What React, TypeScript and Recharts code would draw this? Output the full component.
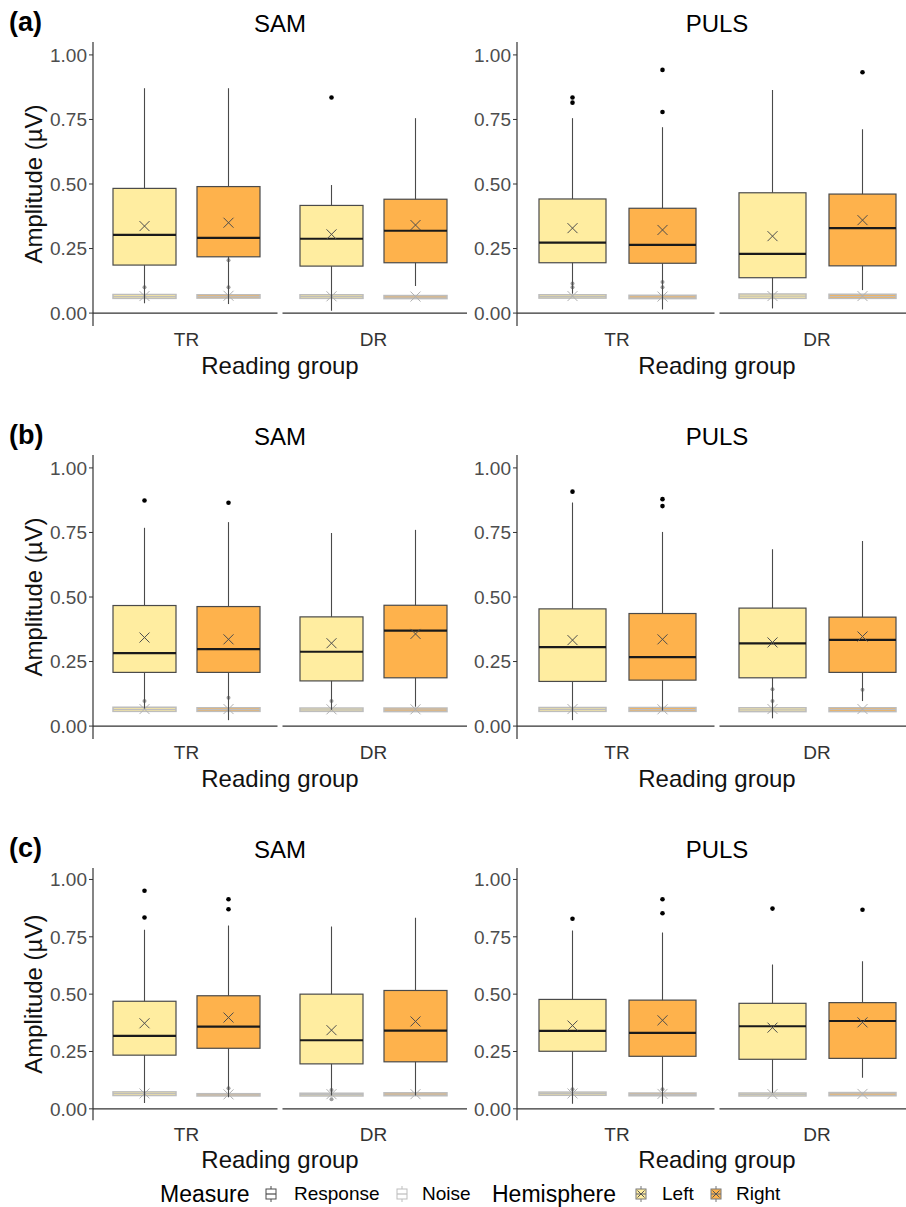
import React from "react";
import { ComposedChart, Bar, XAxis, YAxis, ReferenceLine } from "recharts";

const ROW_TAGS = ["(a)", "(b)", "(c)"];
const STIMULI = ["SAM", "PULS"];
const GROUPS = ["TR", "DR"];
const HEMISPHERES = ["Left", "Right"];
const Y_TICKS = [0, 0.25, 0.5, 0.75, 1];

// one line per panel: a-SAM, a-PULS, b-SAM, b-PULS, c-SAM, c-PULS
// columns: TR-Left, TR-Right, DR-Left, DR-Right
const WHISKER_HI = [
  [0.871, 0.871, 0.496, 0.755],
  [0.755, 0.72, 0.864, 0.712],
  [0.768, 0.79, 0.748, 0.76],
  [0.866, 0.752, 0.685, 0.717],
  [0.781, 0.799, 0.795, 0.833],
  [0.778, 0.769, 0.629, 0.643],
];
const Q3 = [
  [0.483, 0.49, 0.417, 0.441],
  [0.442, 0.406, 0.466, 0.461],
  [0.467, 0.463, 0.423, 0.468],
  [0.454, 0.436, 0.457, 0.422],
  [0.469, 0.493, 0.5, 0.516],
  [0.477, 0.474, 0.46, 0.463],
];
const MEDIAN = [
  [0.303, 0.291, 0.288, 0.319],
  [0.273, 0.264, 0.229, 0.329],
  [0.283, 0.298, 0.288, 0.37],
  [0.306, 0.267, 0.32, 0.334],
  [0.318, 0.358, 0.299, 0.341],
  [0.34, 0.331, 0.36, 0.383],
];
const Q1 = [
  [0.186, 0.218, 0.182, 0.195],
  [0.195, 0.193, 0.137, 0.183],
  [0.208, 0.208, 0.175, 0.187],
  [0.173, 0.178, 0.187, 0.208],
  [0.234, 0.264, 0.196, 0.205],
  [0.251, 0.229, 0.216, 0.22],
];
const WHISKER_LO = [
  [0.038, 0.035, 0.009, 0.105],
  [0.075, 0.014, 0.018, 0.089],
  [0.068, 0.023, 0.063, 0.075],
  [0.023, 0.06, 0.03, 0.097],
  [0.025, 0.05, 0.058, 0.058],
  [0.022, 0.022, 0.07, 0.135],
];
const MEAN = [
  [0.337, 0.35, 0.305, 0.341],
  [0.329, 0.322, 0.298, 0.36],
  [0.343, 0.336, 0.321, 0.357],
  [0.333, 0.336, 0.324, 0.347],
  [0.373, 0.398, 0.343, 0.381],
  [0.363, 0.386, 0.354, 0.377],
];
const OUTLIERS = [
  [[], [], [0.835], []],
  [[0.835, 0.815], [0.942, 0.779], [], [0.933]],
  [[0.874], [0.865], [], []],
  [[0.908], [0.879, 0.852], [], []],
  [[0.951, 0.834], [0.914, 0.87], [], []],
  [[0.829], [0.914, 0.853], [0.873], [0.868]],
];

// noise measure
const NOISE_Q1 = [
  [0.057, 0.058, 0.057, 0.056],
  [0.058, 0.056, 0.057, 0.057],
  [0.057, 0.057, 0.057, 0.056],
  [0.057, 0.057, 0.056, 0.056],
  [0.058, 0.056, 0.056, 0.057],
  [0.059, 0.057, 0.056, 0.057],
];
const NOISE_MED = [
  [0.064, 0.064, 0.064, 0.062],
  [0.064, 0.062, 0.066, 0.065],
  [0.065, 0.064, 0.063, 0.063],
  [0.065, 0.064, 0.063, 0.064],
  [0.066, 0.061, 0.062, 0.064],
  [0.066, 0.063, 0.063, 0.065],
];
const NOISE_Q3 = [
  [0.072, 0.071, 0.071, 0.068],
  [0.071, 0.069, 0.074, 0.073],
  [0.073, 0.071, 0.07, 0.07],
  [0.072, 0.072, 0.071, 0.071],
  [0.074, 0.066, 0.068, 0.07],
  [0.073, 0.069, 0.069, 0.071],
];
const NOISE_MEAN = [
  [0.066, 0.067, 0.065, 0.064],
  [0.066, 0.064, 0.066, 0.066],
  [0.066, 0.066, 0.065, 0.065],
  [0.066, 0.065, 0.066, 0.066],
  [0.067, 0.063, 0.064, 0.064],
  [0.067, 0.065, 0.064, 0.065],
];
const NOISE_OUTLIERS = [
  [[0.1], [0.1, 0.205], [], []],
  [[0.1, 0.115], [0.1, 0.12], [], []],
  [[0.097], [0.11], [0.097], []],
  [[], [], [0.143, 0.097], [0.141]],
  [[], [0.09], [0.082, 0.042], []],
  [[0.085], [0.085], [], []],
];

const FILLS = ["#FFEDA0", "#FEB24C"];
const RESPONSE_LINE = "#4a4a4a";
const NOISE_LINE = "#bdbdbd";
const FONT = '"Liberation Sans", Arial, sans-serif';

const ROW_PLOT_TOP = [42, 455, 867.5];
const ROW_PLOT_H = [284, 284, 252.3];
const ROW_TITLE_Y = [32, 445, 858];
const COLS = [
  { left: 0, axisW: 93, plotW: 374, barSize: 63, barGap: 21, yLabel: true, titleX: 280 },
  { left: 466, axisW: 51, plotW: 400, barSize: 67, barGap: 23, yLabel: false, titleX: 717 },
];
const MARGIN_TOP = 10;
const XAXIS_H = 60;

function boxRange(p: number, k: number): [number, number] {
  const lo = Math.min(WHISKER_LO[p][k], NOISE_Q1[p][k], ...NOISE_OUTLIERS[p][k]);
  const hi = Math.max(WHISKER_HI[p][k], ...OUTLIERS[p][k], ...NOISE_OUTLIERS[p][k]);
  return [lo, hi];
}

function Cross({ x, y, color, s = 5 }: { x: number; y: number; color: string; s?: number }) {
  return (
    <path
      d={`M${x - s},${y - s}L${x + s},${y + s}M${x - s},${y + s}L${x + s},${y - s}`}
      stroke={color}
      strokeWidth={1}
      fill="none"
    />
  );
}

function makeBoxShape(p: number, hemi: number) {
  return (props: any) => {
    const { x, y, width, height, payload } = props;
    if (x == null || y == null) return <g />;
    const k = payload.gi * 2 + hemi;
    const [lo, hi] = boxRange(p, k);
    const top = Math.min(y, y + height);
    const h = Math.abs(height);
    const py = (v: number) => top + ((hi - v) / (hi - lo)) * h;
    const cx = x + width / 2;
    const fill = FILLS[hemi];
    return (
      <g>
        {/* noise */}
        <rect
          x={x}
          y={py(NOISE_Q3[p][k])}
          width={width}
          height={py(NOISE_Q1[p][k]) - py(NOISE_Q3[p][k])}
          fill={fill}
          stroke={NOISE_LINE}
          strokeWidth={1.5}
        />
        <line x1={x} x2={x + width} y1={py(NOISE_MED[p][k])} y2={py(NOISE_MED[p][k])} stroke={NOISE_LINE} strokeWidth={1.2} />
        {NOISE_OUTLIERS[p][k].map((v, i) => (
          <circle key={`n${i}`} cx={cx} cy={py(v)} r={2} fill="#9e9e9e" />
        ))}
        <Cross x={cx} y={py(NOISE_MEAN[p][k])} color="#b0b0b0" />
        {/* response */}
        <line x1={cx} x2={cx} y1={py(WHISKER_HI[p][k])} y2={py(WHISKER_LO[p][k])} stroke={RESPONSE_LINE} strokeWidth={1.1} />
        <rect
          x={x}
          y={py(Q3[p][k])}
          width={width}
          height={py(Q1[p][k]) - py(Q3[p][k])}
          fill={fill}
          stroke={RESPONSE_LINE}
          strokeWidth={1.2}
        />
        <line x1={x} x2={x + width} y1={py(MEDIAN[p][k])} y2={py(MEDIAN[p][k])} stroke="#1a1a1a" strokeWidth={2.2} />
        <Cross x={cx} y={py(MEAN[p][k])} color="#4d4d4d" />
        {OUTLIERS[p][k].map((v, i) => (
          <circle key={`o${i}`} cx={cx} cy={py(v)} r={2.3} fill="#000" />
        ))}
      </g>
    );
  };
}

const splitBaseline = (props: any) => {
  const { x1, x2, y1, y2 } = props;
  const mid = (x1 + x2) / 2;
  return (
    <g>
      <line x1={x1} x2={mid - 2.5} y1={y1} y2={y2} stroke="#333" strokeWidth={1.3} />
      <line x1={mid + 2.5} x2={x2} y1={y1} y2={y2} stroke="#333" strokeWidth={1.3} />
    </g>
  );
};

function Panel({ row, col }: { row: number; col: number }) {
  const c = COLS[col];
  const p = row * 2 + col;
  const data = GROUPS.map((g, gi) => ({ group: g, gi }));
  const width = c.axisW + c.plotW;
  const height = MARGIN_TOP + ROW_PLOT_H[row] + XAXIS_H;
  return (
    <div style={{ position: "absolute", left: c.left, top: ROW_PLOT_TOP[row] - MARGIN_TOP }}>
      <ComposedChart
        width={width}
        height={height}
        data={data}
        margin={{ top: MARGIN_TOP, right: 0, bottom: 0, left: 0 }}
        barGap={c.barGap}
      >
        <XAxis
          dataKey="group"
          type="category"
          axisLine={false}
          tickLine={false}
          tickSize={0}
          tickMargin={7}
          height={XAXIS_H}
          tick={{ fontSize: 19, fill: "#333" }}
          label={{ value: "Reading group", position: "insideBottom", offset: 12, fontSize: 24, fill: "#111" }}
        />
        <YAxis
          type="number"
          domain={[-0.05, 1.05]}
          ticks={Y_TICKS}
          interval={0}
          allowDataOverflow
          width={c.axisW}
          tickFormatter={(v: number) => v.toFixed(2)}
          tick={{ fontSize: 19, fill: "#4d4d4d" }}
          tickSize={4}
          tickMargin={2}
          tickLine={{ stroke: "#333" }}
          axisLine={{ stroke: "#333", strokeWidth: 1.2 }}
          label={
            c.yLabel
              ? {
                  value: "Amplitude (µV)",
                  angle: -90,
                  position: "insideLeft",
                  offset: 33,
                  fontSize: 24,
                  fill: "#111",
                  style: { textAnchor: "middle" },
                }
              : undefined
          }
        />
        <ReferenceLine y={0} shape={splitBaseline} />
        {HEMISPHERES.map((hname, hi) => (
          <Bar
            key={hname}
            name={hname}
            dataKey={(d: any) => boxRange(p, d.gi * 2 + hi)}
            barSize={c.barSize}
            shape={makeBoxShape(p, hi)}
            isAnimationActive={false}
          />
        ))}
      </ComposedChart>
    </div>
  );
}

function LegendKey({ cx, stroke, fill, cross }: { cx: number; stroke: string; fill: string; cross?: boolean }) {
  return (
    <g>
      <line x1={cx} x2={cx} y1={1186} y2={1202} stroke={stroke} strokeWidth={1} />
      <rect x={cx - 5} y={1189} width={10} height={10} fill={fill} stroke={stroke} strokeWidth={1} />
      <line x1={cx - 5} x2={cx + 5} y1={1194} y2={1194} stroke={stroke} strokeWidth={1.2} />
      {cross && <Cross x={cx} y={1194} color="#555" s={3.5} />}
    </g>
  );
}

export default function App() {
  return (
    <div
      style={{
        position: "absolute",
        left: 0,
        top: 0,
        width: 906,
        height: 1207,
        overflow: "hidden",
        background: "#fff",
        fontFamily: FONT,
      }}
    >
      {ROW_TAGS.map((_, row) =>
        STIMULI.map((_s, col) => <Panel key={`${row}-${col}`} row={row} col={col} />)
      )}
      <svg
        width={906}
        height={1207}
        style={{ position: "absolute", left: 0, top: 0, pointerEvents: "none", fontFamily: FONT }}
      >
        {ROW_TAGS.map((tag, row) => (
          <g key={tag}>
            <text x={9} y={ROW_TITLE_Y[row] - 1} fontSize={27} fontWeight={700} fill="#000">
              {tag}
            </text>
            {STIMULI.map((s, col) => (
              <text key={s} x={COLS[col].titleX} y={ROW_TITLE_Y[row]} fontSize={24} textAnchor="middle" fill="#000">
                {s}
              </text>
            ))}
          </g>
        ))}
        <text x={160} y={1202} fontSize={23} fill="#000">Measure</text>
        <LegendKey cx={271} stroke={RESPONSE_LINE} fill="#fff" />
        <text x={294} y={1200} fontSize={19} fill="#000">Response</text>
        <LegendKey cx={402} stroke={NOISE_LINE} fill="#fff" />
        <text x={422} y={1200} fontSize={19} fill="#000">Noise</text>
        <text x={492} y={1202} fontSize={23} fill="#000">Hemisphere</text>
        <LegendKey cx={641} stroke="#777" fill={FILLS[0]} cross />
        <text x={662} y={1200} fontSize={19} fill="#000">Left</text>
        <LegendKey cx={716} stroke="#777" fill={FILLS[1]} cross />
        <text x={736} y={1200} fontSize={19} fill="#000">Right</text>
      </svg>
    </div>
  );
}
